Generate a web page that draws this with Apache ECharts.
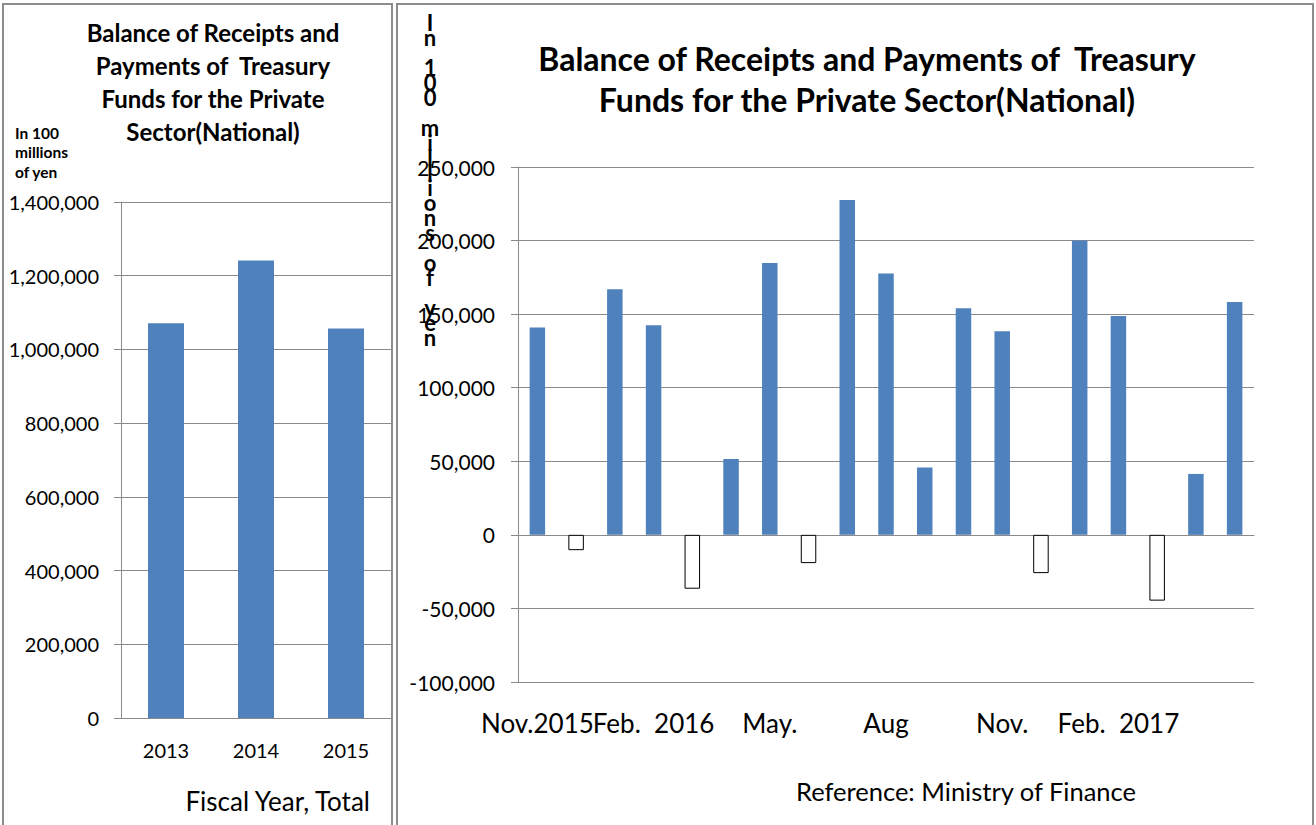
<!DOCTYPE html>
<html>
<head>
<meta charset="utf-8">
<title>Balance of Receipts and Payments of Treasury Funds</title>
<script src="https://cdn.jsdelivr.net/npm/echarts@6/dist/echarts.min.js"></script>
<style>
  html, body { margin: 0; padding: 0; background: #fff; }
  #chart { width: 1316px; height: 825px; }
</style>
</head>
<body>
<div id="chart"></div>
<script>
// fiscal year totals (left panel)
const fiscalYears = ['2013', '2014', '2015']
const fiscalTotals = [1071000, 1241000, 1057000]

// monthly balance (right panel), Nov 2015 - May 2017
const months = [
  'Nov 2015', 'Dec 2015', 'Jan 2016', 'Feb 2016', 'Mar 2016', 'Apr 2016', 'May 2016',
  'Jun 2016', 'Jul 2016', 'Aug 2016', 'Sep 2016', 'Oct 2016', 'Nov 2016', 'Dec 2016',
  'Jan 2017', 'Feb 2017', 'Mar 2017', 'Apr 2017', 'May 2017',
]
const monthTickLabels = [
  'Nov.2015', '', '', 'Feb.  2016', '', '', 'May.', '', '', 'Aug', '', '',
  'Nov.', '', '', 'Feb.  2017', '', '', '',
]
const monthBalances = [
  141000, -10400, 167000, 142500, -36600, 51500, 184800, -19200, 227600, 177700,
  45800, 154000, 138300, -26000, 200000, 148700, -44700, 41400, 158300,
]

const FONT = 'Lato, "Open Sans", sans-serif'
const GRID_COLOR = '#8a8a8a'
const BAR_COLOR = '#4f81bd'

const fmt = (v) => v.toLocaleString('en-US')

const chart = echarts.init(document.getElementById('chart'), null, { renderer: 'svg' })

// negative months are drawn as white bars with a black outline
const monthData = monthBalances.map((v) =>
  v < 0 ? { value: v, itemStyle: { color: '#fff', borderColor: '#000', borderWidth: 1 } } : v,
)

const yAxisBase = {
  type: 'value',
  axisLine: { show: true, lineStyle: { color: GRID_COLOR } },
  axisTick: { show: true, length: 7, lineStyle: { color: GRID_COLOR } },
  splitLine: { lineStyle: { color: GRID_COLOR, width: 1 } },
}

chart.setOption({
  animation: false,
  textStyle: { fontFamily: FONT, color: '#000' },
  grid: [
    { left: 121, top: 202, width: 270, height: 516, outerBoundsMode: 'none' },
    { left: 518, top: 167, width: 736, height: 515, outerBoundsMode: 'none' },
  ],
  xAxis: [
    {
      type: 'category',
      gridIndex: 0,
      data: fiscalYears,
      axisLine: { lineStyle: { color: GRID_COLOR } },
      axisTick: { length: 7, lineStyle: { color: GRID_COLOR } },
      axisLabel: { fontSize: 20, color: '#000', margin: 22 },
    },
    {
      type: 'category',
      gridIndex: 1,
      data: months,
      axisLine: { onZero: true, lineStyle: { color: GRID_COLOR } },
      axisTick: { interval: 0, length: 8, lineStyle: { color: GRID_COLOR } },
      axisLabel: {
        interval: 0,
        fontSize: 26,
        color: '#000',
        margin: 28,
        formatter: (value, index) => monthTickLabels[index],
      },
    },
  ],
  yAxis: [
    {
      ...yAxisBase,
      gridIndex: 0,
      min: 0,
      max: 1400000,
      interval: 200000,
      axisLabel: { fontSize: 20, color: '#000', margin: 22, formatter: fmt },
    },
    {
      ...yAxisBase,
      gridIndex: 1,
      min: -100000,
      max: 250000,
      interval: 50000,
      axisLabel: { fontSize: 21, color: '#000', margin: 23, formatter: fmt },
    },
  ],
  series: [
    {
      type: 'bar',
      xAxisIndex: 0,
      yAxisIndex: 0,
      data: fiscalTotals,
      barWidth: '40%',
      itemStyle: { color: BAR_COLOR },
    },
    {
      type: 'bar',
      xAxisIndex: 1,
      yAxisIndex: 1,
      data: monthData,
      barWidth: '40%',
      itemStyle: { color: BAR_COLOR },
    },
  ],
  graphic: [
    // panel frames
    {
      type: 'rect',
      shape: { x: 3, y: 4, width: 389, height: 840 },
      style: { fill: 'none', stroke: '#8c8c8c', lineWidth: 2 },
      silent: true,
    },
    {
      type: 'rect',
      shape: { x: 397, y: 4, width: 916, height: 840 },
      style: { fill: 'none', stroke: '#8c8c8c', lineWidth: 2 },
      silent: true,
    },
    // left panel texts
    {
      type: 'text',
      x: 213,
      y: 16,
      style: {
        text: 'Balance of Receipts and\nPayments of  Treasury\nFunds for the Private\nSector(National)',
        font: 'bold 24px ' + FONT,
        lineHeight: 33,
        textAlign: 'center',
        fill: '#000',
      },
    },
    {
      type: 'text',
      x: 15,
      y: 123,
      style: {
        text: 'In 100\nmillions\nof yen',
        font: 'bold 15.5px ' + FONT,
        lineHeight: 19.5,
        textAlign: 'left',
        fill: '#000',
      },
    },
    {
      type: 'text',
      x: 370,
      y: 788,
      style: { text: 'Fiscal Year, Total', font: '26px ' + FONT, textAlign: 'right', fill: '#000' },
    },
    // right panel texts
    {
      type: 'text',
      x: 867,
      y: 38,
      style: {
        text: 'Balance of Receipts and Payments of  Treasury\nFunds for the Private Sector(National)',
        font: 'bold 32px ' + FONT,
        lineHeight: 41,
        textAlign: 'center',
        fill: '#000',
      },
    },
    {
      type: 'text',
      x: 430,
      y: 15,
      style: {
        text: 'In 100 millions of yen'.split('').join('\n'),
        font: 'bold 22px ' + FONT,
        lineHeight: 15,
        textAlign: 'center',
        fill: '#000',
      },
    },
    {
      type: 'text',
      x: 966,
      y: 778,
      style: { text: 'Reference: Ministry of Finance', font: '25.5px ' + FONT, textAlign: 'center', fill: '#000' },
    },
  ],
})
</script>
</body>
</html>
